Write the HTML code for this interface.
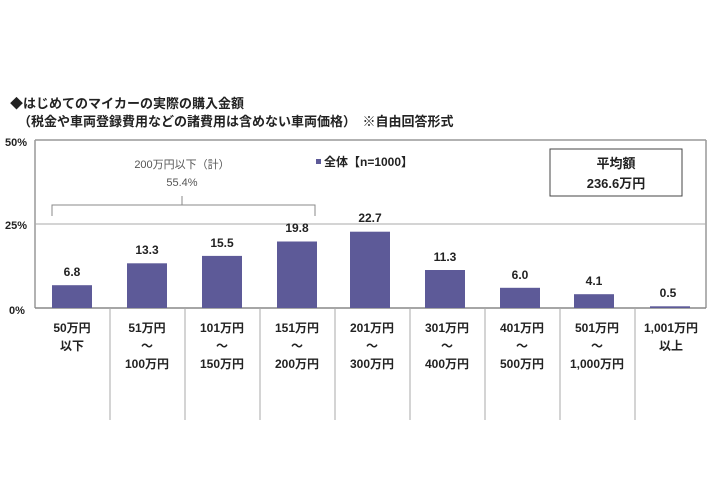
<!DOCTYPE html>
<html><head><meta charset="utf-8"><style>
body{margin:0;background:#fff;}
text{font-family:"Liberation Sans","Noto Sans CJK JP",sans-serif;}
</style></head><body>
<svg width="710" height="474" xmlns="http://www.w3.org/2000/svg">
<rect width="710" height="474" fill="#fff"/>
<text x="10" y="108" font-size="13" font-weight="bold" fill="#222">◆はじめてのマイカーの実際の購入金額</text>
<text x="18" y="126" font-size="13" font-weight="bold" fill="#222">（税金や車両登録費用などの諸費用は含めない車両価格）　※自由回答形式</text>
<g font-size="11" font-weight="bold" fill="#222">
<text x="5" y="146">50%</text><text x="5" y="229">25%</text><text x="9" y="314">0%</text>
</g>
<line x1="35" y1="140" x2="706" y2="140" stroke="#999" stroke-width="1.5"/>
<line x1="706" y1="140" x2="706" y2="308" stroke="#999" stroke-width="1.5"/>
<line x1="35" y1="140" x2="35" y2="308" stroke="#999" stroke-width="1.5"/>
<line x1="35" y1="224" x2="706" y2="224" stroke="#aaa" stroke-width="1"/>
<line x1="35" y1="308" x2="706" y2="308" stroke="#888" stroke-width="1.5"/>
<g stroke="#aaa" stroke-width="1">
<line x1="110" y1="308" x2="110" y2="420"/><line x1="185" y1="308" x2="185" y2="420"/>
<line x1="260" y1="308" x2="260" y2="420"/><line x1="335" y1="308" x2="335" y2="420"/>
<line x1="410" y1="308" x2="410" y2="420"/><line x1="485" y1="308" x2="485" y2="420"/>
<line x1="560" y1="308" x2="560" y2="420"/><line x1="635" y1="308" x2="635" y2="420"/>
</g>
<g fill="#5d5a98">
<rect x="52" y="285.2" width="40" height="22.8"/>
<rect x="127" y="263.3" width="40" height="44.7"/>
<rect x="202" y="255.9" width="40" height="52.1"/>
<rect x="277" y="241.5" width="40" height="66.5"/>
<rect x="350" y="231.7" width="40" height="76.3"/>
<rect x="425" y="270" width="40" height="38"/>
<rect x="500" y="287.8" width="40" height="20.2"/>
<rect x="574" y="294.2" width="40" height="13.8"/>
<rect x="650" y="306.3" width="40" height="1.7"/>
</g>
<g font-size="12" font-weight="bold" fill="#222" text-anchor="middle">
<text x="72" y="276">6.8</text><text x="147" y="254">13.3</text><text x="222" y="247">15.5</text>
<text x="297" y="232">19.8</text><text x="370" y="222">22.7</text><text x="445" y="261">11.3</text>
<text x="520" y="279">6.0</text><text x="594" y="285">4.1</text><text x="668" y="297">0.5</text>
</g>
<path d="M52 216 V205 H315 V216 M182 205 V196" fill="none" stroke="#888" stroke-width="1"/>
<text x="182" y="168" font-size="11" fill="#555" text-anchor="middle">200万円以下（計）</text>
<text x="182" y="186" font-size="11" fill="#555" text-anchor="middle">55.4%</text>
<rect x="316" y="159" width="5" height="5" fill="#5d5a98"/>
<text x="324" y="166" font-size="12" font-weight="bold" fill="#222">全体【n=1000】</text>
<rect x="550" y="149" width="132" height="47" fill="#fff" stroke="#444" stroke-width="1"/>
<text x="616" y="168" font-size="13" font-weight="bold" fill="#222" text-anchor="middle">平均額</text>
<text x="616" y="188" font-size="13" font-weight="bold" fill="#222" text-anchor="middle">236.6万円</text>
<g font-size="12" font-weight="bold" fill="#222" text-anchor="middle">
<text x="72" y="332">50万円</text><text x="72" y="350">以下</text>
<text x="147" y="332">51万円</text><text x="147" y="350">～</text><text x="147" y="368">100万円</text>
<text x="222" y="332">101万円</text><text x="222" y="350">～</text><text x="222" y="368">150万円</text>
<text x="297" y="332">151万円</text><text x="297" y="350">～</text><text x="297" y="368">200万円</text>
<text x="372" y="332">201万円</text><text x="372" y="350">～</text><text x="372" y="368">300万円</text>
<text x="447" y="332">301万円</text><text x="447" y="350">～</text><text x="447" y="368">400万円</text>
<text x="522" y="332">401万円</text><text x="522" y="350">～</text><text x="522" y="368">500万円</text>
<text x="597" y="332">501万円</text><text x="597" y="350">～</text><text x="597" y="368">1,000万円</text>
<text x="671" y="332">1,001万円</text><text x="671" y="350">以上</text>
</g>
</svg>
</body></html>
